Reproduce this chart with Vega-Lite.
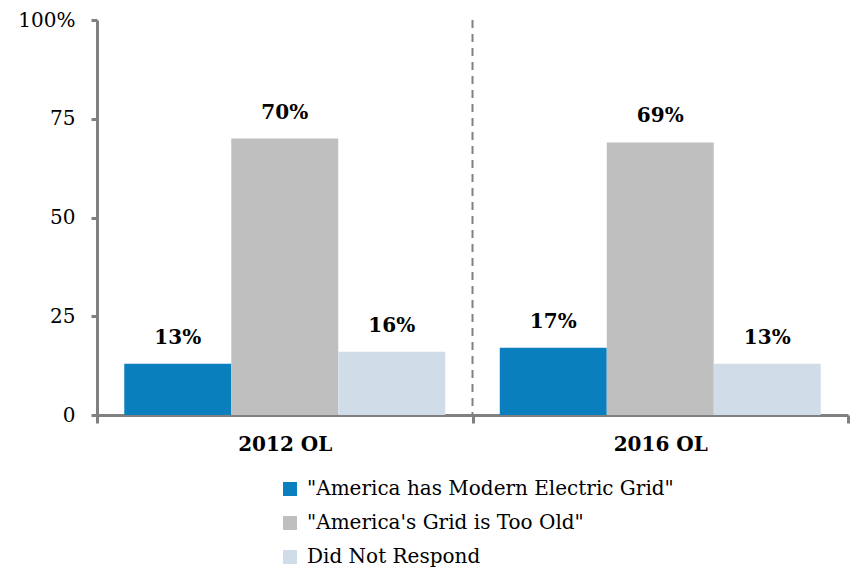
{
  "$schema": "https://vega.github.io/schema/vega-lite/v6.json",
  "width": 751,
  "height": 395,
  "autosize": {"type": "none"},
  "padding": {"left": 97, "top": 20, "right": 5, "bottom": 153},
  "background": "white",
  "config": {
    "view": {"stroke": null},
    "font": "DejaVu Serif"
  },
  "data": {
    "values": [
      {"year": "2012 OL", "series": "\"America has Modern Electric Grid\"", "value": 13},
      {"year": "2012 OL", "series": "\"America's Grid is Too Old\"", "value": 70},
      {"year": "2012 OL", "series": "Did Not Respond", "value": 16},
      {"year": "2016 OL", "series": "\"America has Modern Electric Grid\"", "value": 17},
      {"year": "2016 OL", "series": "\"America's Grid is Too Old\"", "value": 69},
      {"year": "2016 OL", "series": "Did Not Respond", "value": 13}
    ]
  },
  "layer": [
    {
      "mark": {"type": "bar"},
      "encoding": {
        "x": {
          "field": "year", "type": "nominal",
          "scale": {"paddingInner": 0, "paddingOuter": 0},
          "axis": {
            "title": null, "labelAngle": 0,
            "labelFont": "DejaVu Serif", "labelFontSize": 20, "labelFontWeight": "bold", "labelColor": "#000000",
            "labelPadding": 11,
            "domainColor": "#808080", "domainWidth": 3,
            "tickColor": "#808080", "tickWidth": 3, "tickSize": 8, "tickBand": "extent"
          }
        },
        "xOffset": {
          "field": "series", "type": "nominal",
          "scale": {"domain": ["\"America has Modern Electric Grid\"", "\"America's Grid is Too Old\"", "Did Not Respond"], "paddingInner": 0, "paddingOuter": 0.255}
        },
        "y": {
          "field": "value", "type": "quantitative",
          "scale": {"domain": [0, 100], "nice": false},
          "axis": {
            "title": null, "values": [0, 25, 50, 75, 100], "grid": false,
            "labelExpr": "datum.value == 100 ? '100%' : datum.label",
            "labelFont": "DejaVu Serif", "labelFontSize": 20, "labelColor": "#000000",
            "labelPadding": 16,
            "domainColor": "#808080", "domainWidth": 3,
            "tickColor": "#808080", "tickWidth": 3, "tickSize": 6
          }
        },
        "color": {
          "field": "series", "type": "nominal",
          "scale": {
            "domain": ["\"America has Modern Electric Grid\"", "\"America's Grid is Too Old\"", "Did Not Respond"],
            "range": ["#0A7FBD", "#BFBFBF", "#D0DDE8"]
          },
          "legend": {
            "title": null, "orient": "none", "legendX": 183, "legendY": 459,
            "direction": "vertical", "symbolType": "square", "symbolSize": 196,
            "symbolStrokeWidth": 0, "symbolOpacity": 1,
            "labelFont": "DejaVu Serif", "labelFontSize": 20, "labelColor": "#000000",
            "rowPadding": 14, "labelOffset": 7, "labelLimit": 500
          }
        }
      }
    },
    {
      "mark": {"type": "text", "baseline": "bottom", "dy": -16, "font": "DejaVu Serif", "fontSize": 20, "fontWeight": "bold", "color": "#000000"},
      "transform": [{"calculate": "datum.value + '%'", "as": "label"}],
      "encoding": {
        "x": {"field": "year", "type": "nominal"},
        "xOffset": {"field": "series", "type": "nominal", "scale": {"domain": ["\"America has Modern Electric Grid\"", "\"America's Grid is Too Old\"", "Did Not Respond"]}},
        "y": {"field": "value", "type": "quantitative"},
        "text": {"field": "label", "type": "nominal"}
      }
    },
    {
      "data": {"values": [{"year": "2016 OL"}]},
      "mark": {"type": "rule", "color": "#808080", "strokeWidth": 2, "strokeDash": [8, 6]},
      "encoding": {
        "x": {"field": "year", "type": "nominal", "bandPosition": 0}
      }
    }
  ]
}
